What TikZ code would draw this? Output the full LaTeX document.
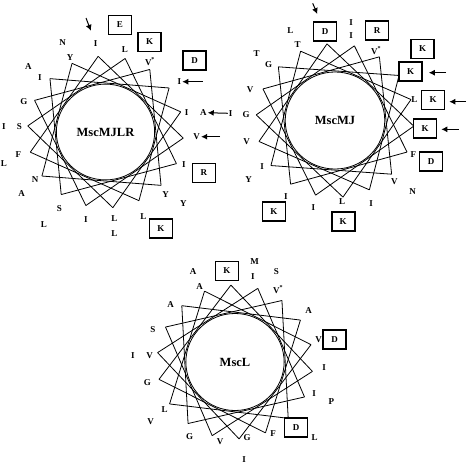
\documentclass[tikz,border=0pt]{standalone}
\usepackage{fontspec}
\setmainfont{Liberation Serif}
\usetikzlibrary{arrows.meta}
\tikzset{
  res/.style={font=\bfseries\fontsize{9}{9}\selectfont,inner sep=0pt},
  chg/.style={res,draw,line width=1.6pt,minimum width=23pt,minimum height=19pt},
  lbl/.style={font=\bfseries\fontsize{12.5}{12.5}\selectfont,inner sep=1pt},
  arr/.style={line width=1pt,-{Latex[length=6pt,width=6pt]}},
}
\begin{document}
\begin{tikzpicture}[x=1pt,y=1pt]
\useasboundingbox (0,0) rectangle (472,-467);
% the three wheels
\foreach \cx/\cy/\rx/\ry/\rot/\nm/\id in {105.5/132/78/76/-4.6/MscMJLR/wa,
    335/120.5/79/77/-4.2/MscMJ/wb, 235/362/78/77/-7/MscL/wc}{
  \begin{scope}[shift={(\cx,-\cy)},line width=0.8pt]
    \pgfmathsetmacro{\ra}{0.63*\rx}
    \pgfmathsetmacro{\rb}{0.63*\ry}
    \foreach \k in {0,...,17}
      \draw (\rot+20*\k:\rx pt and \ry pt) -- (\rot+20*\k+100:\rx pt and \ry pt);
    \draw (0,0) ellipse (\ra pt and \rb pt);
    \node[lbl] (\id) at (0,0) {\nm};
  \end{scope}
}
% MscMJLR
\foreach \x/\y/\t [count=\i] in {62.7/42.7/N, 125/50/L, 70/57.3/Y, 150/61.7/V\textsuperscript{*},
    28.3/66.7/A, 40/77.7/I, 24/101.7/G, 186.7/112.7/I, 4/126.7/I, 19.3/126.7/S,
    18.3/155/F, 4/163.3/L, 184/165/I, 35/180/N, 21.7/193.3/A, 165.7/194.3/Y,
    183.3/203.3/Y, 59.3/208.3/S, 86/220/I, 114.3/218.3/L, 143.3/216.7/L, 44/225/L, 114.3/234/L}
  \node[res] (a\i) at (\x,-\y) {\t};
\foreach \x/\y/\t [count=\i] in {120/25/E, 149.5/42/K, 194.7/60.3/D, 203.8/173/R, 160.8/228.3/K}
  \node[chg] (ak\i) at (\x,-\y) {\t};
\node[res] (ai) at (95.7,-43.3) {I};
\node[res] (aj) at (179.3,-81.7) {I};
\node[res] (aa) at (203.3,-112.7) {A};
\node[res] (at) at (230.7,-113.3) {I};
\node[res] (av) at (196.7,-136.7) {V};
\coordinate (p1) at (86,-18);
\coordinate (p2) at (202.7,-81.7);
\coordinate (p3) at (220,-136.7);
\draw[arr,shorten >=10pt] (p1) -- (ai);
\draw[arr,shorten >=1pt] (p2) -- (aj.east);
\draw[arr,shorten >=1pt,shorten <=1pt] (at.west) -- (aa.east);
\draw[arr,shorten >=1pt] (p3) -- (av.east);
% MscMJ
\foreach \x/\y/\t [count=\i] in {290.3/30.7/L, 351/22.7/I, 351/36/I, 297.7/45/T, 256.7/54/T,
    376/50.7/V\textsuperscript{*}, 268.7/65/G, 250/89.3/V, 414.3/99.3/L, 246/115/G,
    246.7/141.7/V, 413.3/155/F, 262/166.7/I, 248.7/180/Y, 394.3/181.7/V, 412.7/191.7/N,
    286/196.7/I, 313.3/207.3/I, 342/201.7/L, 371/203.3/I}
  \node[res] (b\i) at (\x,-\y) {\t};
\foreach \x/\y/\t [count=\i] in {377/30.5/R, 422.5/49/K, 431/161.7/D, 273.8/211.7/K, 343.2/221.7/K}
  \node[chg] (bk\i) at (\x,-\y) {\t};
\node[chg] (bd) at (325,-31.7) {D};
\node[chg] (bx) at (410.5,-71.7) {K};
\node[chg] (by) at (433,-100) {K};
\node[chg] (bz) at (425,-128.3) {K};
\coordinate (q1) at (312.7,-3.3);
\coordinate (q2) at (446,-72.7);
\coordinate (q3) at (466,-101.7);
\coordinate (q4) at (458.7,-129.3);
\draw[arr,shorten >=8pt] (q1) -- (bd);
\draw[arr,shorten >=6pt] (q2) -- (bx.east |- q2);
\draw[arr,shorten >=4pt] (q3) -- (by.east |- q3);
\draw[arr,shorten >=4pt] (q4) -- (bz.east |- q4);
% MscL
\foreach \x/\y/\t [count=\i] in {193/271.7/A, 254.7/261.7/M, 276.3/271.7/S, 253/276.7/I,
    199.7/286.7/A, 278/289.3/V\textsuperscript{*}, 170.7/305/A, 308.7/310.7/A, 153/329.3/S,
    318.5/339.3/V, 133/356/I, 149.7/356/V, 324/367.3/I, 147.3/382.7/G, 314/393.3/I,
    331.3/401.7/P, 164.7/410/L, 150.7/421.7/V, 314.7/437.3/L, 189.7/436.7/G, 220/442/V,
    247/437.5/G, 273/434/F, 244/460/I}
  \node[res] (c\i) at (\x,-\y) {\t};
\foreach \x/\y/\t [count=\i] in {226.8/271/K, 334.7/339.7/D, 296/427.5/D}
  \node[chg] (ck\i) at (\x,-\y) {\t};
\end{tikzpicture}
\end{document}
